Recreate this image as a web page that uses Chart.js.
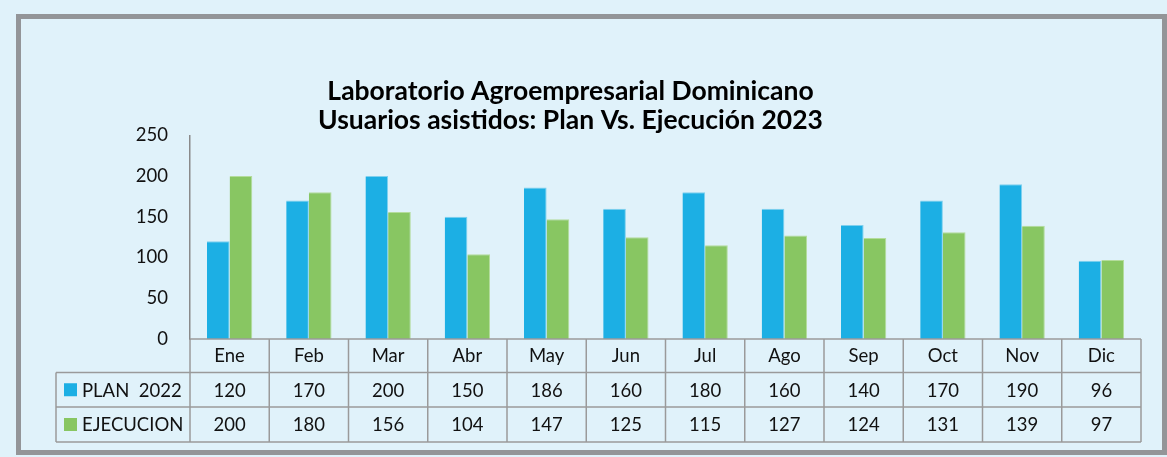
<!DOCTYPE html>
<html lang="es">
<head>
<meta charset="utf-8">
<title>Usuarios asistidos: Plan Vs. Ejecución 2023</title>
<script src="https://cdn.jsdelivr.net/npm/chart.js@4.4.1/dist/chart.umd.min.js"></script>
<style>
    html, body { margin: 0; padding: 0; background: #e0f2fa; }
    #chart-wrap { width: 1167px; height: 457px; }
</style>
</head>
<body>
<div id="chart-wrap"><canvas id="plan-chart" width="1167" height="457"></canvas></div>
<script>
// Datos
const meses = ['Ene', 'Feb', 'Mar', 'Abr', 'May', 'Jun', 'Jul', 'Ago', 'Sep', 'Oct', 'Nov', 'Dic'];
const plan2022 = [120, 170, 200, 150, 186, 160, 180, 160, 140, 170, 190, 96];
const ejecucion = [200, 180, 156, 104, 147, 125, 115, 127, 124, 131, 139, 97];
const yTicks = [0, 50, 100, 150, 200, 250];

const FONT = 'Lato, "Open Sans", sans-serif';
const BLUE = '#1cafe4';
const GREEN = '#88c662';
const GRID = '#9a9a9a';

// Marco exterior y tabla de datos bajo el eje X
const tablePlugin = {
    id: 'dataTable',
    afterDraw(chart) {
        const ctx = chart.ctx;
        const x = chart.scales.x;
        const area = chart.chartArea;
        const colW = (area.right - area.left) / meses.length;
        const rowTop = area.bottom;
        const rowH = [33.5, 34.5, 35];
        const y1 = rowTop + rowH[0];
        const y2 = y1 + rowH[1];
        const y3 = y2 + rowH[2];
        const labelLeft = 56;

        ctx.save();
        ctx.strokeStyle = GRID;
        ctx.lineWidth = 1.5;
        ctx.beginPath();
        ctx.moveTo(area.left, rowTop); ctx.lineTo(area.right, rowTop);
        [y1, y2, y3].forEach(y => { ctx.moveTo(labelLeft, y); ctx.lineTo(area.right, y); });
        ctx.moveTo(labelLeft, y1); ctx.lineTo(labelLeft, y3);
        for (let i = 0; i <= meses.length; i++) {
            const cx = area.left + i * colW;
            ctx.moveTo(cx, rowTop); ctx.lineTo(cx, y3);
        }
        ctx.stroke();

        ctx.fillStyle = '#111';
        ctx.font = '18.5px ' + FONT;
        ctx.textAlign = 'center';
        ctx.textBaseline = 'middle';
        const rows = [plan2022, ejecucion];
        const centers = [(y1 + y2) / 2, (y2 + y3) / 2];
        rows.forEach((vals, r) => {
            vals.forEach((v, i) => {
                ctx.fillText(String(v), x.getPixelForValue(i), centers[r] + 1);
            });
        });

        // Leyenda dentro de la tabla
        const names = chart.data.datasets.map(d => d.label);
        const colors = chart.data.datasets.map(d => d.backgroundColor);
        ctx.textAlign = 'left';
        names.forEach((name, r) => {
            ctx.fillStyle = colors[r];
            ctx.fillRect(64, centers[r] - 6.5, 13, 13);
            ctx.fillStyle = '#111';
            ctx.fillText(name, 82, centers[r] + 1);
        });

        // Marco gris
        ctx.strokeStyle = '#939598';
        ctx.lineWidth = 5;
        ctx.strokeRect(18.5, 16.5, 1146, 436);
        ctx.restore();
    }
};

new Chart(document.getElementById('plan-chart'), {
    type: 'bar',
    data: {
        labels: meses,
        datasets: [
            {
                label: 'PLAN  2022',
                data: plan2022,
                backgroundColor: BLUE,
                borderColor: '#7fd0ee',
                borderWidth: { top: 1, left: 0, right: 1, bottom: 0 }
            },
            {
                label: 'EJECUCION',
                data: ejecucion,
                backgroundColor: GREEN,
                borderColor: '#b4dc9c',
                borderWidth: { top: 1, left: 0, right: 1, bottom: 0 }
            }
        ]
    },
    options: {
        responsive: false,
        animation: false,
        devicePixelRatio: 1,
        layout: { padding: { left: 0, right: 26, top: 0, bottom: 0 } },
        datasets: {
            bar: { barPercentage: 1, categoryPercentage: 0.572 }
        },
        plugins: {
            legend: { display: false },
            tooltip: { enabled: false },
            title: {
                display: true,
                text: ['Laboratorio Agroempresarial Dominicano', 'Usuarios asistidos: Plan Vs. Ejecución 2023'],
                color: '#000',
                font: { family: FONT, size: 26.5, weight: 'bold', lineHeight: 1.1 },
                padding: { top: 77, bottom: 0 }
            }
        },
        scales: {
            x: {
                grid: { display: false, drawTicks: false },
                border: { display: false },
                ticks: {
                    color: '#111',
                    font: { family: FONT, size: 18.5 },
                    padding: 6,
                    maxRotation: 0
                },
                afterFit(scale) { scale.height = 118; }
            },
            y: {
                min: 0,
                max: 250,
                grid: { display: false, drawTicks: false },
                border: { display: true, color: '#8a8a8a', width: 1.5 },
                afterBuildTicks(scale) { scale.ticks = yTicks.map(v => ({ value: v })); },
                ticks: {
                    color: '#111',
                    font: { family: FONT, size: 18.5 },
                    padding: 22
                },
                afterFit(scale) { scale.width = 190; }
            }
        }
    },
    plugins: [tablePlugin]
});
</script>
</body>
</html>
